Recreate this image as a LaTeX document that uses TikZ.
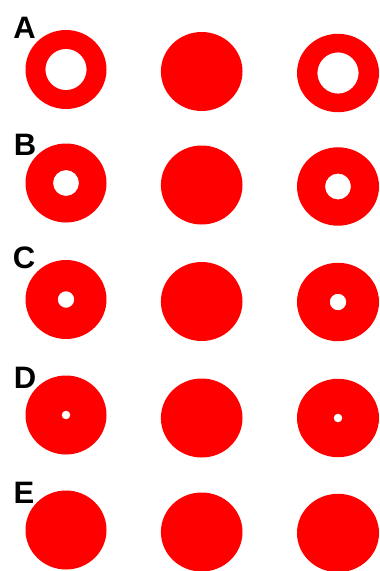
\documentclass[tikz,border=0pt]{standalone}
\usepackage{fontspec}
\setmainfont{Liberation Sans}
\begin{document}
\begin{tikzpicture}[x=1pt, y=-1pt,
  disc/.style={fill=red, even odd rule},
  lbl/.style={font=\fontsize{31}{31}\selectfont\bfseries, inner sep=0pt}]
  \useasboundingbox (0,0) rectangle (380,571);
  % row labels
  \node[lbl] (labA) at (24.5,28) {A};
  \node[lbl] (labB) at (25,144.7) {B};
  \node[lbl] (labC) at (24,258.3) {C};
  \node[lbl] (labD) at (25,377.5) {D};
  \node[lbl] (labE) at (24,492.5) {E};
  % discs: y of left/middle/right, hole radius
  \foreach \row/\ya/\yb/\yc/\hole in {A/69.5/71.5/73/20.6, B/183/185/186.5/13, C/299.5/301.5/302/8.3, D/415/418/418/4.4}{
    \fill[disc] (66,\ya) ellipse [x radius=40.5, y radius=39.5] (66,\ya) circle [radius=\hole];
    \fill[disc] (201.7,\yb) ellipse [x radius=40.8, y radius=39.5];
    \fill[disc] (338,\yc) ellipse [x radius=41, y radius=39.2] (338,\yc) circle [radius=\hole];
  }
  % row E: no holes
  \fill[disc] (66,530) ellipse [x radius=40.5, y radius=39.5];
  \fill[disc] (201.7,532) ellipse [x radius=40.8, y radius=39.5];
  \fill[disc] (338,533) ellipse [x radius=41, y radius=39.2];
\end{tikzpicture}
\end{document}
